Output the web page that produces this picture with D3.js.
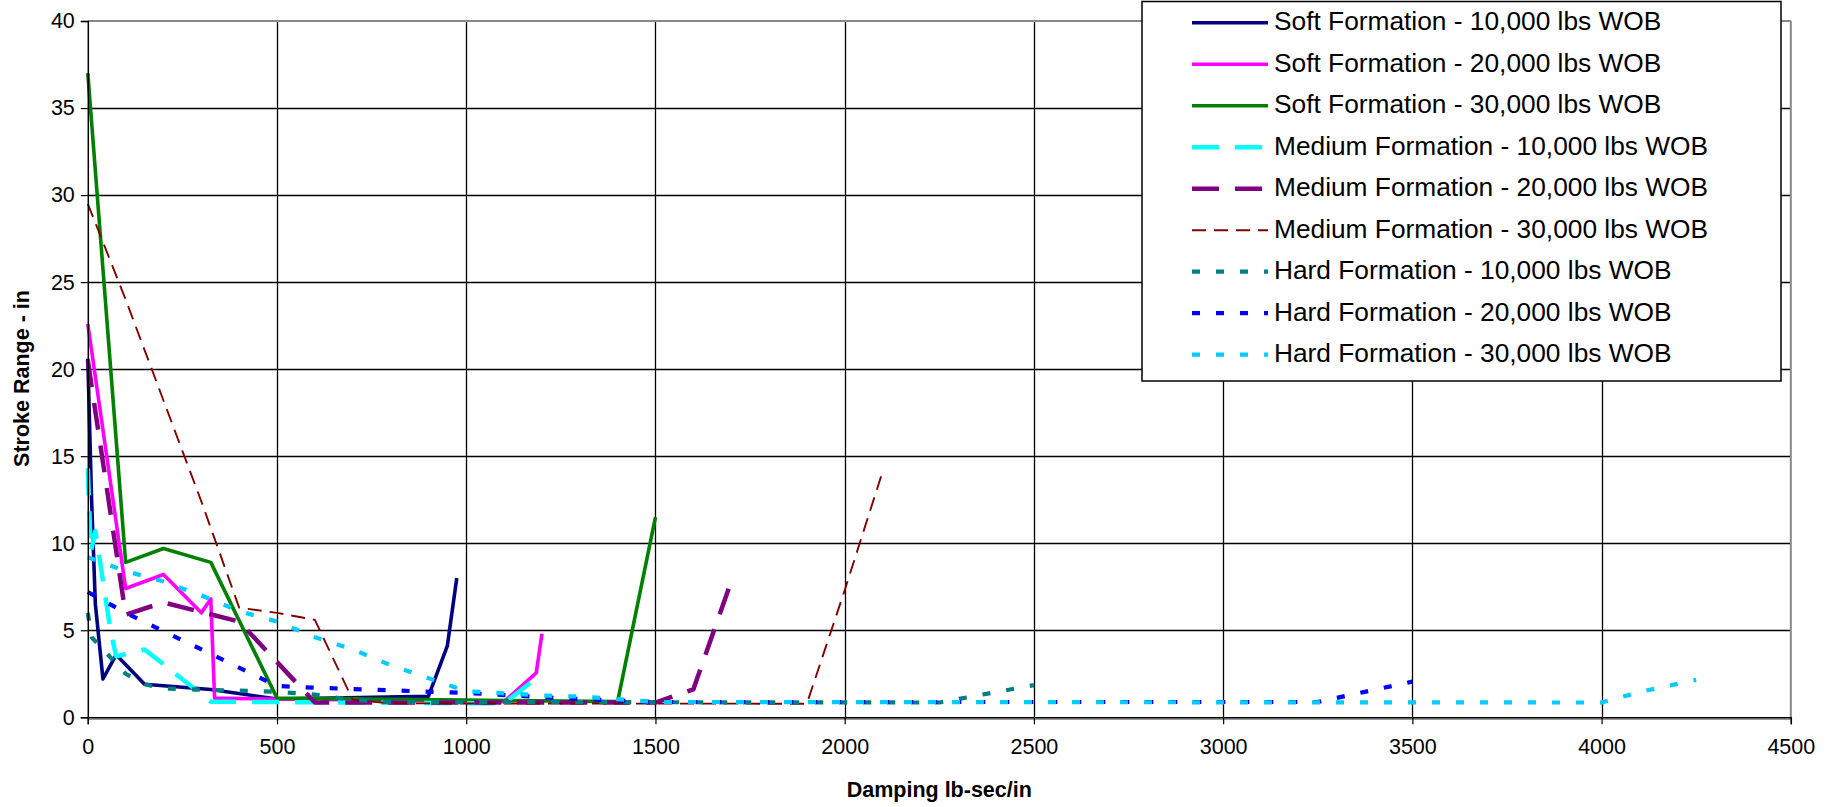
<!DOCTYPE html>
<html>
<head>
<meta charset="utf-8">
<script src="https://cdn.jsdelivr.net/npm/d3@7/dist/d3.min.js"></script>
<style>
  html, body { margin: 0; padding: 0; background: #fff; }
  svg { display: block; font-family: "Liberation Sans", Arial, sans-serif; }
</style>
</head>
<body>
<svg id="chart" width="1837" height="807"></svg>
<script>
// ---- Data ----
const xTicks = [0, 500, 1000, 1500, 2000, 2500, 3000, 3500, 4000, 4500];
const yTicks = [0, 5, 10, 15, 20, 25, 30, 35, 40];

const seriesNames = [
  "Soft Formation - 10,000 lbs WOB",
  "Soft Formation - 20,000 lbs WOB",
  "Soft Formation - 30,000 lbs WOB",
  "Medium Formation - 10,000 lbs WOB",
  "Medium Formation - 20,000 lbs WOB",
  "Medium Formation - 30,000 lbs WOB",
  "Hard Formation - 10,000 lbs WOB",
  "Hard Formation - 20,000 lbs WOB",
  "Hard Formation - 30,000 lbs WOB"
];

const soft10 = [[0,20.6],[10,12.5],[20,6.5],[40,2.2],[75,3.6],[150,1.9],[325,1.6],[500,1.05],[900,1.2],[950,4.1],[975,8.0]];
const soft20 = [[0,22.6],[100,7.4],[200,8.2],[300,6.0],[325,6.8],[335,1.1],[500,1.05],[1100,0.9],[1185,2.55],[1200,4.8]];
const soft30 = [[0,37.0],[100,8.9],[200,9.7],[325,8.9],[500,1.1],[1400,0.9],[1500,11.5]];
const med10  = [[0,14.3],[8,9.5],[20,10.7],[60,5.0],[75,3.5],[150,3.9],[325,0.9],[1100,0.8],[1200,2.5]];
const med20  = [[0,20.5],[100,5.9],[200,6.6],[400,5.5],[600,0.85],[1500,0.85],[1600,1.6],[1700,7.8]];
const med30  = [[0,29.5],[100,24.0],[200,18.2],[300,12.4],[400,6.3],[500,6.0],[600,5.6],[700,1.0],[800,0.8],[1900,0.78],[2000,7.3],[2100,14.1]];
const hard10 = [[0,6.0],[10,4.6],[100,2.5],[150,1.9],[200,1.65],[500,1.47],[600,1.3],[700,1.0],[800,0.88],[2250,0.85],[2500,1.85]];
const hard20 = [[0,7.2],[100,6.0],[500,1.8],[600,1.7],[1000,1.4],[1250,1.1],[1500,0.88],[3250,0.88],[3500,2.05]];
const hard30 = [[0,9.2],[100,8.4],[200,7.8],[300,7.0],[400,6.1],[500,5.5],[600,4.6],[700,3.9],[800,3.0],[900,2.25],[1000,1.5],[1250,1.2],[1300,1.2],[1500,0.88],[4000,0.85],[4100,1.45],[4250,2.15]];

const seriesData = [soft10, soft20, soft30, med10, med20, med30, hard10, hard20, hard30];

// ---- Styles ----
const styles = [
  {color:"#000080", width:3.6, dash:null},
  {color:"#FF00FF", width:3.6, dash:null},
  {color:"#008000", width:3.6, dash:null},
  {color:"#00FFFF", width:4.5, dash:"27,16"},
  {color:"#800080", width:4.5, dash:"27,16"},
  {color:"#800000", width:1.9, dash:"14,8"},
  {color:"#008080", width:4.2, dash:"8,16"},
  {color:"#0000FF", width:4.2, dash:"8,16"},
  {color:"#00CCFF", width:4.2, dash:"8,16"}
];

const svg = d3.select("#chart");
const pLeft = 87.8, pRight = 1790.8, pTop = 21, pBottom = 717.3;

const x = d3.scaleLinear().domain([0, 4500]).range([pLeft, pRight]);
const y = d3.scaleLinear().domain([0, 40]).range([pBottom, pTop]);

// gridlines
const grid = svg.append("g");
grid.selectAll("line.h").data(yTicks.filter(d => d > 0 && d < 40)).enter().append("line")
  .attr("x1", pLeft).attr("x2", pRight)
  .attr("y1", d => Math.round(y(d)) + 0.5).attr("y2", d => Math.round(y(d)) + 0.5)
  .attr("stroke", "#000").attr("stroke-width", 1.3);
grid.selectAll("line.v").data(xTicks.filter(d => d > 0 && d < 4500)).enter().append("line")
  .attr("y1", pTop).attr("y2", pBottom)
  .attr("x1", d => Math.round(x(d)) + 0.5).attr("x2", d => Math.round(x(d)) + 0.5)
  .attr("stroke", "#000").attr("stroke-width", 1.3);

// plot border (grey top/right)
svg.append("line").attr("x1", pLeft).attr("x2", pRight).attr("y1", pTop).attr("y2", pTop)
  .attr("stroke", "#888").attr("stroke-width", 2);
svg.append("line").attr("x1", pRight).attr("x2", pRight).attr("y1", pTop).attr("y2", pBottom + 1)
  .attr("stroke", "#888").attr("stroke-width", 2);
svg.append("line").attr("x1", pLeft).attr("x2", pRight).attr("y1", pBottom + 2).attr("y2", pBottom + 2)
  .attr("stroke", "#999").attr("stroke-width", 1.5);

// series lines
const line = d3.line().x(d => x(d[0])).y(d => y(d[1]));
const plot = svg.append("g");
seriesData.forEach((data, i) => {
  const s = styles[i];
  plot.append("path").datum(data)
    .attr("d", line)
    .attr("fill", "none")
    .attr("stroke", s.color)
    .attr("stroke-width", s.width)
    .attr("stroke-linejoin", "round")
    .attr("stroke-dasharray", s.dash);
});

// axes
const yAxis = d3.axisLeft(y).tickValues(yTicks).tickSize(7).tickPadding(6).tickFormat(d3.format("d"));
const gy = svg.append("g").attr("transform", `translate(${pLeft},0)`).call(yAxis);
gy.select(".domain").attr("stroke", "#000").attr("stroke-width", 1.5);
gy.selectAll(".tick line").attr("stroke", "#000").attr("stroke-width", 1.2);
gy.selectAll(".tick text").attr("font-size", 21.5).attr("fill", "#000")
  .attr("font-family", "'Liberation Sans', Arial, sans-serif");

const xAxis = d3.axisBottom(x).tickValues(xTicks).tickSize(7).tickPadding(14).tickFormat(d3.format("d"));
const gx = svg.append("g").attr("transform", `translate(0,${pBottom})`).call(xAxis);
gx.select(".domain").attr("stroke", "#000").attr("stroke-width", 1.5);
gx.selectAll(".tick line").attr("stroke", "#000").attr("stroke-width", 1.2);
gx.selectAll(".tick text").attr("font-size", 21.5).attr("fill", "#000")
  .attr("font-family", "'Liberation Sans', Arial, sans-serif");

// axis titles
svg.append("text").attr("x", (pLeft + pRight) / 2).attr("y", 797)
  .attr("text-anchor", "middle").attr("font-weight", "bold").attr("font-size", 21.5)
  .text("Damping lb-sec/in");
svg.append("text").attr("transform", `translate(29,378.5) rotate(-90)`)
  .attr("text-anchor", "middle").attr("font-weight", "bold").attr("font-size", 21.5)
  .text("Stroke Range - in");

// legend
const lg = svg.append("g");
lg.append("rect").attr("x", 1142).attr("y", 1.5).attr("width", 639).attr("height", 379.5)
  .attr("fill", "#fff").attr("stroke", "#000").attr("stroke-width", 1.5);
seriesNames.forEach((name, i) => {
  const cy = 22.7 + i * 41.5;
  const s = styles[i];
  lg.append("line").attr("x1", 1192).attr("x2", 1268).attr("y1", cy).attr("y2", cy)
    .attr("stroke", s.color).attr("stroke-width", s.width).attr("stroke-dasharray", s.dash);
  lg.append("text").attr("x", 1274).attr("y", cy + 7.5)
    .attr("font-size", 26.3).attr("fill", "#000").text(name);
});
</script>
</body>
</html>
